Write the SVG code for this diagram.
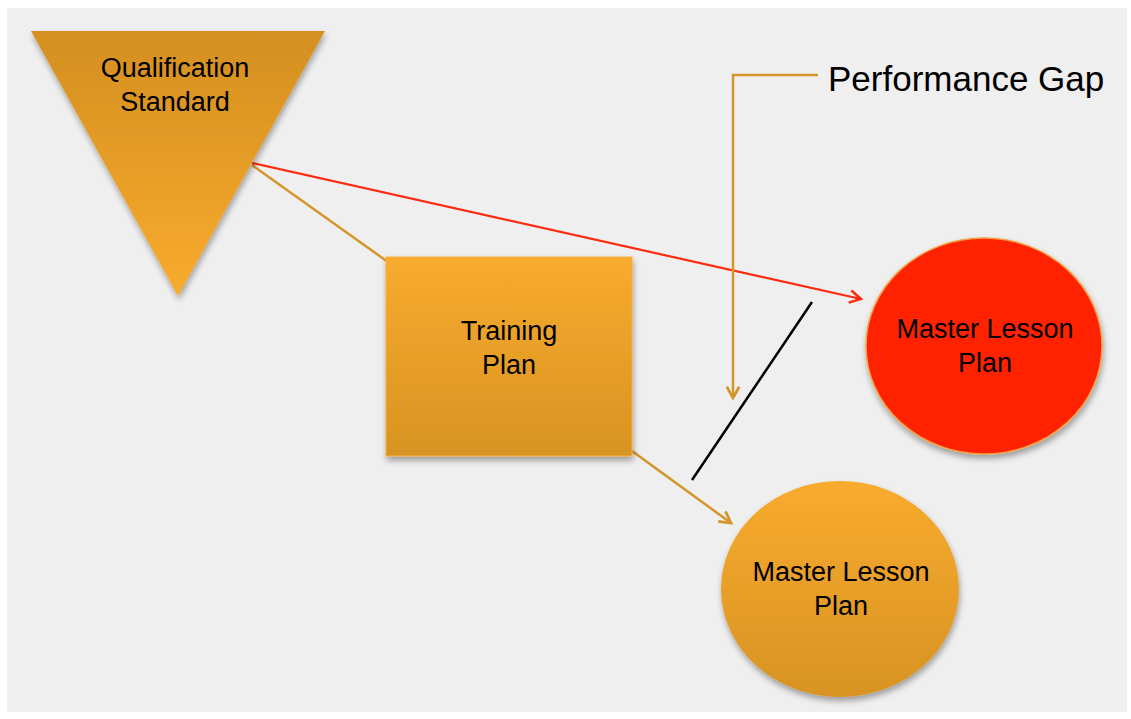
<svg xmlns="http://www.w3.org/2000/svg" width="1131" height="719" viewBox="0 0 1131 719">
<defs>
<linearGradient id="gTri" x1="0" y1="0" x2="0" y2="1"><stop offset="0" stop-color="#d48f20"/><stop offset="1" stop-color="#f8ab2d"/></linearGradient>
<linearGradient id="gBox" x1="0" y1="0" x2="0" y2="1"><stop offset="0" stop-color="#f8ab2e"/><stop offset="1" stop-color="#d89322"/></linearGradient>
<linearGradient id="gCirc" x1="0" y1="0" x2="0" y2="1"><stop offset="0" stop-color="#f8ab2e"/><stop offset="1" stop-color="#d89322"/></linearGradient>
<filter id="sh" x="-10%" y="-10%" width="130%" height="130%"><feGaussianBlur in="SourceAlpha" stdDeviation="3"/><feOffset dx="1" dy="4"/><feComponentTransfer><feFuncA type="linear" slope="0.35"/></feComponentTransfer><feMerge><feMergeNode/><feMergeNode in="SourceGraphic"/></feMerge></filter>
<marker id="aO" viewBox="0 0 12 12" refX="10" refY="6" markerWidth="15" markerHeight="15" markerUnits="userSpaceOnUse" orient="auto"><path d="M1,1 L10,6 L1,11" fill="none" stroke="#d4962a" stroke-width="2.2"/></marker>
<marker id="aR" viewBox="0 0 12 12" refX="10" refY="6" markerWidth="15" markerHeight="15" markerUnits="userSpaceOnUse" orient="auto"><path d="M1,1 L10,6 L1,11" fill="none" stroke="#ff2a10" stroke-width="2"/></marker>
<style>
.t{font-family:"Liberation Sans",Arial,sans-serif;font-size:27px;fill:#000;text-anchor:middle}
.co{fill:none;stroke:#d4962a;stroke-width:2.5}
</style>
</defs>
<rect width="1131" height="719" fill="#ffffff"/>
<rect x="7" y="8" width="1120" height="704" fill="#efefef"/>
<g id="connectors">
<line class="co" x1="252" y1="165" x2="388" y2="262"/>
<line x1="252" y1="163" x2="861" y2="299" stroke="#ff2a10" stroke-width="2.2" marker-end="url(#aR)"/>
<line class="co" x1="632" y1="451" x2="731" y2="523" marker-end="url(#aO)"/>
<polyline class="co" points="818,75 733,75 733,398" marker-end="url(#aO)"/>
<line x1="812" y1="302" x2="692" y2="480" stroke="#000" stroke-width="2.5"/>
</g>
<g id="qualification-standard">
<polygon points="31,31 325,31 178,296" fill="url(#gTri)" filter="url(#sh)"/>
<text class="t" x="175" y="77">Qualification</text>
<text class="t" x="175" y="111">Standard</text>
</g>
<g id="training-plan">
<rect x="386" y="257" width="246" height="199" fill="url(#gBox)" stroke="#f7b040" stroke-width="1" filter="url(#sh)"/>
<text class="t" x="509" y="340">Training</text>
<text class="t" x="509" y="374">Plan</text>
</g>
<g id="master-lesson-plan-red">
<ellipse cx="984" cy="346" rx="118" ry="108" fill="#ff2400" stroke="#f5a040" stroke-width="1.5" filter="url(#sh)"/>
<text class="t" x="985" y="338">Master Lesson</text>
<text class="t" x="985" y="372">Plan</text>
</g>
<g id="master-lesson-plan">
<ellipse cx="840" cy="589" rx="119" ry="108" fill="url(#gCirc)" filter="url(#sh)"/>
<text class="t" x="841" y="581">Master Lesson</text>
<text class="t" x="841" y="615">Plan</text>
</g>
<g id="performance-gap">
<text x="828" y="91" font-family="Liberation Sans, Arial, sans-serif" font-size="35" fill="#000">Performance Gap</text>
</g>
</svg>
